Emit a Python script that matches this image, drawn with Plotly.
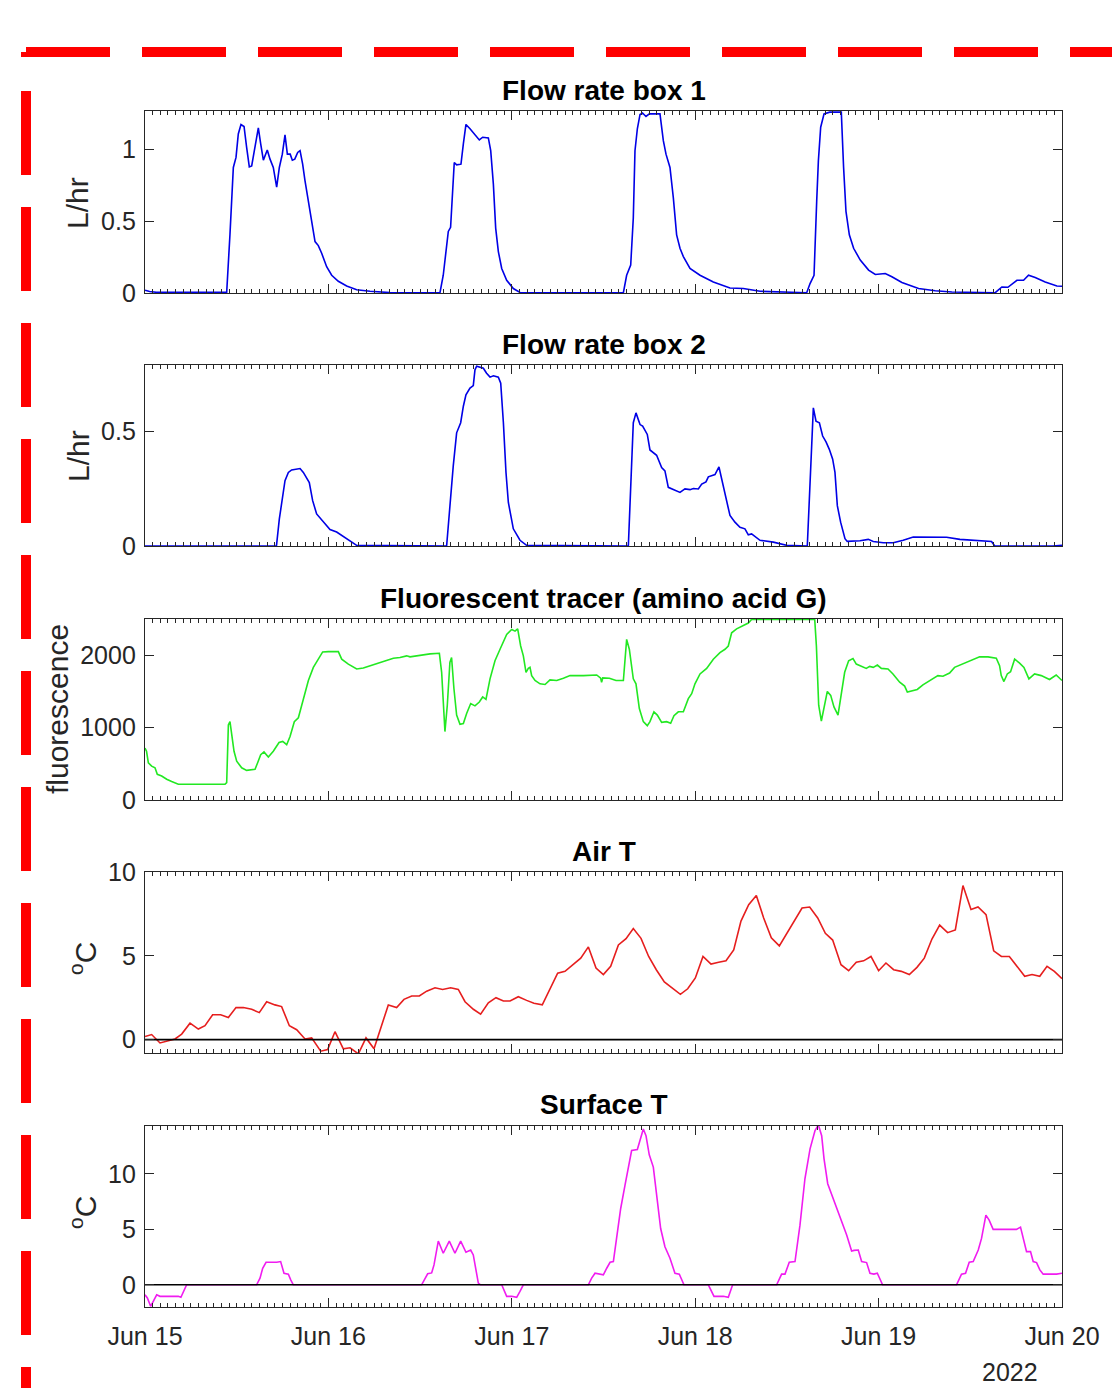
import pandas as pd
import plotly.graph_objects as go

# ---------------- data (hours after 2022-06-15 00:00, values) ----------------
flow1_hours = [0, 0.6, 1.5, 10.69, 11.12, 11.56, 11.91, 12.21, 12.56, 12.96, 13.3, 13.65, 13.96, 14.4, 14.83,
               15.14, 15.49, 16.0, 16.36, 16.79, 17.23, 17.58, 17.97, 18.32, 18.63, 19.0, 19.28, 19.6, 19.98,
               20.29, 20.63, 20.94, 21.38, 21.81, 22.25, 22.68, 23.12, 23.77, 24.43, 25.3, 26.39, 27.7, 29.44,
               32.06, 38.6, 39.03, 39.47, 39.69, 39.99, 40.25, 40.47, 40.78, 41.35, 41.66, 42.0, 42.53, 43.18,
               43.75, 44.19, 44.93, 45.24, 45.59, 45.89, 46.24, 46.68, 47.33, 48.2, 49.07, 55.0, 62.6, 63.03,
               63.56, 63.9, 64.12, 64.43, 64.78, 65.1, 65.56, 66.0, 67.39, 67.83, 68.18, 68.7, 69.14, 69.57,
               70.01, 70.45, 71.32, 72.63, 74.37, 76.55, 78.3, 80.48, 86.59, 87.03, 87.55, 87.9, 88.12, 88.42,
               88.86, 89.6, 91.12, 91.42, 91.73, 92.17, 92.73, 93.6, 94.69, 95.57, 96.87, 97.74, 99.05, 101.23,
               103.41, 105.59, 111.26, 112.13, 112.92, 114.1, 114.97, 115.62, 116.49, 117.8, 119.33, 120.0]
flow1_vals = [0.019, 0.01, 0.005, 0.005, 0.41, 0.876, 0.946, 1.11, 1.176, 1.162, 1.016, 0.88, 0.887, 1.016, 1.153,
              1.04, 0.927, 0.998, 0.934, 0.876, 0.739, 0.876, 0.969, 1.103, 0.969, 0.969, 0.927, 0.934, 0.981,
              0.993, 0.899, 0.782, 0.641, 0.5, 0.359, 0.331, 0.277, 0.183, 0.124, 0.082, 0.049, 0.023, 0.012,
              0.003, 0.002, 0.124, 0.336, 0.43, 0.458, 0.758, 0.911, 0.894, 0.899, 1.04, 1.176, 1.146, 1.106,
              1.068, 1.087, 1.082, 0.993, 0.758, 0.453, 0.289, 0.171, 0.089, 0.031, 0.004, 0.002, 0.002, 0.124,
              0.195, 0.523, 0.993, 1.146, 1.246, 1.256, 1.232, 1.25, 1.25, 1.063, 0.969, 0.876, 0.664, 0.406,
              0.312, 0.254, 0.171, 0.124, 0.077, 0.035, 0.031, 0.012, 0.002, 0.066, 0.124, 0.641, 0.922, 1.157,
              1.25, 1.262, 1.262, 0.876, 0.57, 0.406, 0.312, 0.23, 0.16, 0.129, 0.136, 0.113, 0.073, 0.031,
              0.016, 0.007, 0.002, 0.042, 0.04, 0.089, 0.089, 0.124, 0.108, 0.077, 0.049, 0.047]

flow2_hours = [0, 17.2, 17.58, 18.02, 18.32, 18.76, 19.19, 20.29, 20.72, 21.5, 21.94, 22.46, 23.33, 24.21, 25.08,
               26.39, 27.7, 39.47, 39.9, 40.34, 40.78, 41.31, 41.66, 42.0, 42.53, 42.96, 43.18, 43.4, 44.28, 44.7,
               45.15, 45.6, 46.24, 46.55, 46.9, 47.24, 47.55, 48.2, 49.07, 49.94, 63.25, 63.68, 63.9, 64.25, 64.78,
               65.12, 65.73, 66.08, 66.95, 67.61, 68.04, 68.48, 68.92, 69.35, 70.01, 70.66, 71.32, 71.76, 72.41,
               72.85, 73.41, 73.72, 74.59, 75.11, 75.59, 76.03, 76.55, 77.2, 77.86, 78.51, 78.95, 79.38, 80.48,
               82.22, 83.96, 86.67, 87.03, 87.46, 87.81, 88.25, 88.68, 89.12, 89.55, 89.99, 90.29, 90.6, 91.03,
               91.6, 91.9, 93.56, 94.65, 95.3, 96.61, 97.92, 99.22, 100.53, 104.9, 106.64, 110.78, 111.2, 118.8,
               120.0]
flow2_vals = [0, 0, 0.118, 0.22, 0.285, 0.321, 0.332, 0.338, 0.321, 0.277, 0.198, 0.14, 0.104, 0.072, 0.061,
              0.032, 0.003, 0, 0.19, 0.35, 0.494, 0.538, 0.61, 0.66, 0.689, 0.70, 0.769, 0.785, 0.776, 0.754,
              0.737, 0.743, 0.737, 0.711, 0.538, 0.321, 0.19, 0.075, 0.025, 0.003, 0, 0.393, 0.538, 0.581, 0.53,
              0.523, 0.487, 0.419, 0.396, 0.342, 0.328, 0.256, 0.249, 0.241, 0.234, 0.249, 0.246, 0.251, 0.249,
              0.27, 0.28, 0.302, 0.312, 0.345, 0.277, 0.22, 0.133, 0.104, 0.082, 0.075, 0.049, 0.053, 0.025,
              0.017, 0.003, 0, 0.249, 0.603, 0.545, 0.538, 0.48, 0.454, 0.422, 0.379, 0.321, 0.176, 0.104,
              0.032, 0.02, 0.023, 0.029, 0.02, 0.014, 0.014, 0.025, 0.039, 0.038, 0.029, 0.02, 0, 0,
              0.003]

fluor_hours = [0, 0.2, 0.44, 0.87, 1.31, 1.61, 2.18, 2.84, 3.49, 4.36, 6.76, 10.47, 10.69, 10.91, 11.12, 11.34,
               11.65, 12.0, 12.65, 13.3, 14.4, 14.74, 15.14, 15.57, 16.14, 16.79, 17.54, 18.02, 18.54, 18.98,
               19.54, 20.07, 20.72, 21.38, 22.03, 22.68, 23.25, 23.99, 24.65, 25.3, 25.74, 26.61, 27.7, 28.57,
               29.88, 31.19, 32.5, 33.37, 34.24, 34.68, 35.99, 37.3, 38.52, 38.82, 39.25, 39.56, 39.9, 40.12,
               40.43, 40.78, 41.22, 41.66, 42.09, 42.62, 43.18, 43.75, 44.19, 44.62, 45.15, 45.8, 46.46, 47.33,
               47.99, 48.42, 48.77, 49.16, 49.51, 49.86, 50.16, 50.38, 50.6, 51.04, 51.69, 52.35, 53.0, 53.88,
               54.75, 55.62, 57.37, 59.11, 59.63, 59.75, 59.9, 60.77, 61.64, 62.6, 63.03, 63.38, 63.9, 64.25,
               64.69, 65.21, 65.73, 66.08, 66.6, 67.04, 67.61, 68.26, 68.79, 69.22, 69.79, 70.45, 71.1, 71.54,
               71.97, 72.63, 73.5, 74.37, 75.24, 75.9, 76.33, 76.77, 77.42, 78.3, 78.95, 79.38, 87.64, 87.86,
               88.16, 88.51, 88.86, 89.29, 89.73, 90.16, 90.69, 91.12, 91.56, 92.08, 92.65, 93.08, 93.74, 94.39,
               94.83, 95.3, 95.84, 96.36, 97.23, 97.88, 98.76, 99.41, 99.76, 100.5, 101.06, 101.8, 102.67,
               103.76, 104.42, 105.29, 105.94, 107.25, 108.34, 109.22, 110.31, 111.4, 111.83, 112.05, 112.4,
               112.84, 113.27, 113.8, 114.45, 115.02, 115.67, 116.41, 117.28, 118.37, 119.24, 120.0]
fluor_vals = [718, 673, 514, 468, 445, 355, 332, 286, 255, 218, 218, 218, 241, 1036, 1082, 900,
              673, 536, 445, 409, 423, 514, 627, 664, 595, 673, 795, 809, 764, 877,
              1082, 1136, 1400, 1650, 1832, 1954, 2045, 2050, 2045, 2050, 1945, 1877, 1809, 1823,
              1868, 1913, 1959, 1968, 1991, 1977, 2000, 2018, 2027, 1764, 945, 1309, 1900, 1968,
              1536, 1173, 1045, 1055, 1195, 1332, 1300, 1354, 1423, 1391, 1673, 1923, 2082, 2286,
              2355, 2332, 2364, 2127, 1991, 1764, 1818, 1832, 1718, 1650, 1605, 1595, 1659, 1650,
              1682, 1718, 1718, 1727, 1682, 1627, 1686, 1682, 1650, 1650, 2218, 2082, 1673, 1605,
              1264, 1082, 1027, 1082, 1218, 1173, 1073, 1082, 1059, 1164, 1218, 1218, 1400, 1468,
              1605, 1741, 1818, 1945, 2036, 2082, 2127, 2309, 2364, 2409, 2445, 2495, 2495, 2127,
              1309, 1091, 1264, 1500, 1445, 1286, 1173, 1445, 1764, 1923, 1954, 1877, 1845, 1818,
              1845, 1832, 1864, 1818, 1809, 1741, 1627, 1573, 1491, 1514, 1527, 1591, 1650,
              1718, 1709, 1754, 1832, 1891, 1936, 1977, 1977, 1959, 1855, 1718, 1636,
              1741, 1773, 1945, 1891, 1832, 1673, 1741, 1718, 1664, 1727, 1650]

airT_hours = [0, 0.87, 1.96, 3.93, 4.8, 5.89, 6.98, 7.85, 8.85, 9.9, 10.91, 11.91, 12.87, 13.96, 14.96, 15.92,
              17.01, 17.88, 18.89, 19.85, 20.94, 21.81, 22.99, 23.9, 24.86, 25.95, 26.83, 27.92, 28.92, 29.97,
              31.84, 32.93, 33.89, 34.9, 35.9, 36.86, 37.95, 38.95, 40.0, 41.0, 41.88, 42.97, 43.92, 44.93,
              45.93, 46.9, 47.77, 48.85, 49.94, 50.9, 51.99, 53.0, 54.0, 54.96, 56.05, 57.02, 58.02, 59.02,
              59.98, 60.94, 61.95, 62.95, 63.9, 64.91, 65.91, 66.91, 67.96, 68.97, 70.06, 71.02, 72.02, 73.02,
              74.07, 75.07, 76.03, 77.04, 77.99, 79.0, 80.0, 80.96, 81.96, 83.01, 84.01, 85.02, 85.98, 86.98,
              88.03, 89.03, 89.99, 91.08, 92.08, 93.08, 94.04, 95.0, 96.0, 96.96, 97.97, 98.97, 100.02, 101.02,
              101.98, 102.98, 103.99, 105.03, 106.04, 107.04, 108.09, 109.01, 110.06, 111.06, 112.07, 113.11,
              114.12, 115.12, 116.08, 117.09, 118.04, 119.0, 120.0]
airT_vals = [0.18, 0.3, -0.2, 0.04, 0.33, 0.98, 0.63, 0.83, 1.48, 1.48, 1.32, 1.91, 1.91, 1.81, 1.61, 2.26,
             2.07, 1.97, 0.83, 0.59, 0.04, 0.1, -0.69, -0.59, 0.47, -0.55, -0.49, -0.85, 0.1, -0.55,
             2.07, 1.91, 2.4, 2.6, 2.6, 2.89, 3.09, 2.99, 3.09, 2.99, 2.26, 1.81, 1.52, 2.2,
             2.5, 2.3, 2.3, 2.56, 2.34, 2.17, 2.07, 2.99, 3.96, 4.07, 4.47, 4.86, 5.53, 4.27,
             3.88, 4.37, 5.65, 6.02, 6.63, 6.04, 4.96, 4.17, 3.44, 3.09, 2.7, 3.03, 3.68, 4.96,
             4.51, 4.61, 4.7, 5.35, 7.07, 8.05, 8.6, 7.26, 6.08, 5.59, 6.34, 7.07, 7.85, 7.91,
             7.26, 6.34, 5.94, 4.47, 4.11, 4.61, 4.7, 4.96, 4.11, 4.57, 4.17, 4.07, 3.88, 4.31,
             4.86, 6.0, 6.83, 6.38, 6.54, 9.19, 7.76, 7.91, 7.46, 5.3, 4.96, 4.96,
             4.37, 3.78, 3.88, 3.78, 4.37, 4.07, 3.64]

surfT_hours = [0, 0.31, 0.74, 1.09, 1.53, 1.96, 4.36, 4.7, 5.02, 5.45, 14.61, 15.05, 15.4, 15.84, 17.23, 17.75,
               18.19, 18.76, 19.07, 19.41, 36.2, 36.64, 36.99, 37.51, 37.82, 38.38, 39.03, 39.82, 40.56, 41.31,
               42.0, 42.62, 42.96, 43.62, 43.92, 46.68, 47.33, 47.99, 48.64, 49.07, 49.51, 58.02, 58.45, 58.89,
               59.98, 60.42, 60.86, 61.29, 61.81, 62.25, 62.81, 63.25, 63.68, 64.43, 64.78, 65.21, 65.56, 65.99,
               66.52, 66.95, 67.48, 68.04, 68.7, 69.35, 69.92, 70.53, 73.72, 74.46, 75.68, 76.33, 76.9, 82.66,
               83.31, 83.75, 84.31, 85.06, 85.71, 86.36, 87.03, 87.68, 88.12, 88.55, 88.86, 89.34, 90.08, 90.95,
               91.82, 92.47, 92.78, 93.34, 93.78, 94.43, 94.87, 95.39, 95.83, 96.52, 106.2, 106.85, 107.38,
               107.86, 108.38, 109.04, 109.47, 110.04, 110.47, 110.99, 114.04, 114.57, 114.92, 115.36, 115.88,
               116.23, 116.67, 117.1, 117.54, 119.28, 120.0]
surfT_vals = [-0.9, -1.19, -1.94, -1.49, -0.9, -1.04, -1.04, -1.13, -0.6, 0, 0, 0.6, 1.49, 2.03, 2.03, 2.09,
              1.04, 0.96, 0.45, 0, 0, 0.6, 0.99, 1.07, 1.79, 3.94, 2.84, 3.94, 2.84, 3.94,
              2.93, 3.13, 2.69, 0.15, 0, 0, -1.04, -1.04, -1.13, -0.6, 0, 0, 0.6, 1.04,
              0.9, 1.49, 2.03, 2.09, 4.48, 6.87, 8.96, 10.75, 12.09, 12.18, 12.99, 14.03, 13.43, 11.7,
              10.6, 8.06, 5.07, 3.43, 2.39, 1.04, 0.96, 0, 0, -1.04, -1.04, -1.13, 0, 0,
              0.96, 0.96, 2.03, 2.09, 5.37, 9.55, 12.24, 13.88, 14.4, 13.43, 11.34, 9.1, 7.76, 6.18,
              4.48, 3.04, 3.1, 3.13, 2.09, 2.0, 1.04, 0.96, 1.04, 0, 0, 0.96, 1.04,
              2.03, 2.09, 3.13, 4.18, 6.27, 5.82, 4.99, 4.99, 5.19, 4.18, 2.99, 2.99,
              2.09, 2.0, 1.34, 0.96, 0.96, 1.04]

zero_hours = [0, 120]
zero_vals = [0, 0]

titles = ["Flow rate box 1", "Flow rate box 2", "Fluorescent tracer (amino acid G)", "Air T", "Surface T"]
ylabels = ["L/hr", "L/hr", "fluorescence", "<sup>o</sup>C", "<sup>o</sup>C"]
y_ranges = [[0, 1.27], [0, 0.79], [0, 2500], [-0.8, 10], [-2.0, 14.3]]
y_tickvals = [[0, 0.5, 1], [0, 0.5], [0, 1000, 2000], [0, 5, 10], [0, 5, 10]]
y_ticktext = [["0", "0.5", "1"], ["0", "0.5"], ["0", "1000", "2000"], ["0", "5", "10"], ["0", "5", "10"]]
x_start, x_end = "2022-06-15", "2022-06-20"
year_label = "2022"

series = [(flow1_hours, flow1_vals, "#0000e6"), (flow2_hours, flow2_vals, "#0000e6"),
          (fluor_hours, fluor_vals, "#22e822"), (airT_hours, airT_vals, "#e61e1e"),
          (surfT_hours, surfT_vals, "#f01cf0")]
for h, v, _ in series:
    assert len(h) == len(v), (len(h), len(v))

# ---------------- layout geometry (pixels) ----------------
W, H = 1112, 1388
def X(px):
    return px / W
def Y(py):
    return 1 - py / H

x_left, x_right = 145, 1062
panels_px = [(111, 293), (365, 546), (619, 800), (872, 1053), (1126, 1307)]
title_y = [91, 345, 598, 851, 1104]
ylabel_pos = [(78, 203), (78, 456), (57, 709), (83, 959), (83, 1213)]

base = pd.Timestamp(x_start)
def to_time(hours):
    return base + pd.to_timedelta(pd.Series(hours, dtype=float), unit="h")

FONT = "Liberation Sans, Arial, sans-serif"
AX = "#262626"

fig = go.Figure()
layout = dict(width=W, height=H, margin=dict(l=0, r=0, t=0, b=0), template="none",
              paper_bgcolor="white", plot_bgcolor="white", showlegend=False,
              font=dict(family=FONT, size=25, color=AX))
annotations = []

for i, (h, v, color) in enumerate(series):
    n = "" if i == 0 else str(i + 1)
    top, bot = panels_px[i]
    fig.add_trace(go.Scatter(x=to_time(h), y=v, mode="lines", line=dict(color=color, width=1.6),
                             xaxis="x" + n, yaxis="y" + n, hoverinfo="skip"))
    if i >= 3:
        fig.add_trace(go.Scatter(x=to_time(zero_hours), y=zero_vals, mode="lines",
                                 line=dict(color="black", width=1.6), xaxis="x" + n, yaxis="y" + n,
                                 hoverinfo="skip"))
    layout["xaxis" + n] = dict(
        domain=[X(x_left), X(x_right)], anchor="y" + n, range=[x_start, x_end], type="date",
        tickmode="linear", tick0=x_start, dtick=86400000, tickformat="%b %d",
        ticks="inside", ticklen=9, tickwidth=1.2, tickcolor=AX, showline=True, linecolor=AX, linewidth=1.3,
        mirror="ticks", showgrid=False, zeroline=False, showticklabels=(i == 4),
        ticklabelstandoff=7, tickfont=dict(family=FONT, size=25, color=AX),
        minor=dict(ticks="inside", ticklen=4, tickwidth=1, tickcolor=AX, dtick=3600000, tick0=x_start,
                   showgrid=False),
    )
    layout["yaxis" + n] = dict(
        domain=[Y(bot), Y(top)], anchor="x" + n, range=y_ranges[i], tickmode="array",
        tickvals=y_tickvals[i], ticktext=y_ticktext[i], ticks="inside", ticklen=9, tickwidth=1.2,
        tickcolor=AX, showline=True, linecolor=AX, linewidth=1.3, mirror="ticks", showgrid=False,
        zeroline=False, ticklabelstandoff=3, tickfont=dict(family=FONT, size=25, color=AX),
    )
    annotations.append(dict(text="<b>" + titles[i] + "</b>", x=X((x_left + x_right) / 2), y=Y(title_y[i]),
                            xref="paper", yref="paper", xanchor="center", yanchor="middle", showarrow=False,
                            font=dict(family=FONT, size=28, color="black")))
    lx, ly = ylabel_pos[i]
    annotations.append(dict(text=ylabels[i], x=X(lx), y=Y(ly), xref="paper", yref="paper", textangle=-90,
                            xanchor="center", yanchor="middle", showarrow=False,
                            font=dict(family=FONT, size=30, color=AX)))

annotations.append(dict(text=year_label, x=X(1040), y=Y(1372), xref="paper", yref="paper", xanchor="right",
                        yanchor="middle", showarrow=False, font=dict(family=FONT, size=25, color=AX)))

RED = "#ff0000"
shapes = [
    dict(type="line", xref="paper", yref="paper", x0=X(26), x1=X(1160), y0=Y(52), y1=Y(52),
         line=dict(color=RED, width=10, dash="84px,32px")),
    dict(type="line", xref="paper", yref="paper", x0=X(26), x1=X(26), y0=Y(52), y1=Y(57),
         line=dict(color=RED, width=10)),
    dict(type="line", xref="paper", yref="paper", x0=X(26), x1=X(26), y0=Y(91), y1=Y(1500),
         line=dict(color=RED, width=10, dash="84px,32px")),
]

layout["annotations"] = annotations
layout["shapes"] = shapes
fig.update_layout(**layout)

fig.write_html("out.html", config={"displayModeBar": False},
               post_script="document.body.style.margin='0';document.body.style.overflow='hidden';")
